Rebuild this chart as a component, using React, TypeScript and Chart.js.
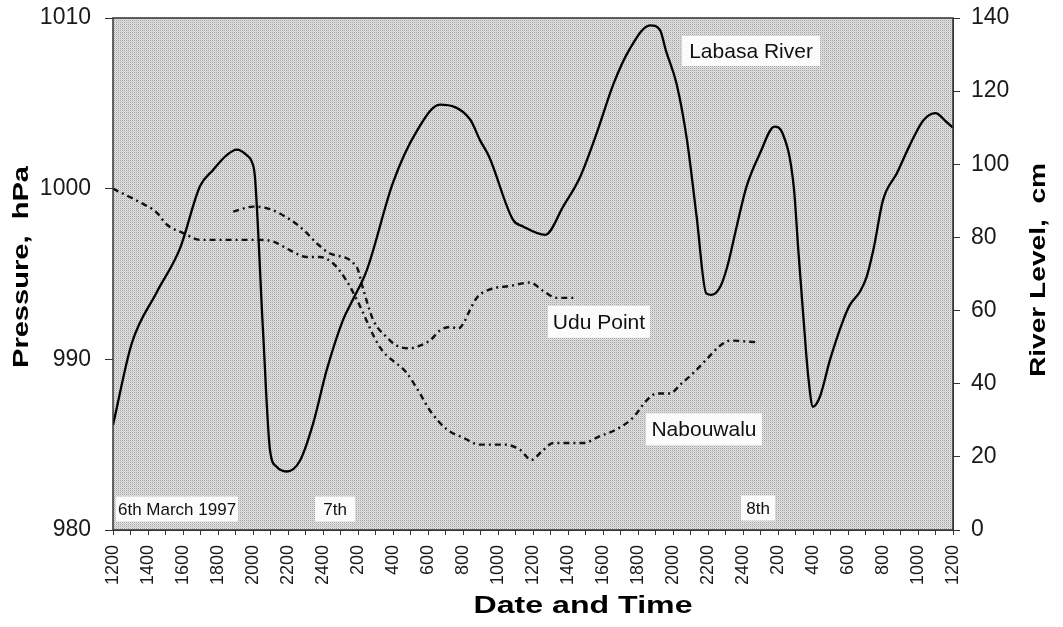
import { useEffect, useRef } from 'react';
import { Chart, registerables } from 'chart.js';

Chart.register(...registerables);

// x axis: hours since 1200 on 6th March 1997 (0..48)
const timeLabels = ['1200', '1400', '1600', '1800', '2000', '2200', '2400', '200', '400', '600', '800', '1000', '1200',
  '1400', '1600', '1800', '2000', '2200', '2400', '200', '400', '600', '800', '1000', '1200'];

// Labasa River level (cm)
const riverHours = [0, 1.07, 2.5, 3.83, 4.97, 5.71, 6.5, 7.07, 7.64, 7.93, 8.11, 8.57, 8.97, 9.35, 9.93, 10.69, 11.43, 12.21,
  13.14, 13.71, 14.5, 16, 17.35, 18.69, 20.4, 20.97, 21.5, 22.86, 23.43, 24.7, 25.73, 26.7, 27.64, 28.6, 29.5, 30.7, 31.26,
  31.6, 32.2, 32.8, 33.35, 33.9, 34.2, 34.7, 35.1, 35.64, 36.2, 36.97, 37.8, 38.26, 38.9, 39.16, 39.45, 39.73, 40.0, 40.4,
  40.97, 41.73, 42.1, 42.69, 43.07, 43.45, 44, 44.8, 45.5, 46.3, 47, 47.6, 48];
const riverLevel = [28.7, 51, 65, 77, 94, 98.4, 102.5, 104, 102.5, 100.7, 96.6, 54.7, 21.9, 17.3, 16, 19, 29, 43.7,
  57.4, 63, 71, 95, 109, 116.3, 112.3, 106.6, 102, 84.8, 83, 80.7, 88.5, 96.6, 108.5, 122, 131.3, 138, 136.7,
  131, 122.1, 106.6, 85.7, 64.7, 64.3, 66.5, 72, 83, 93.9, 103, 110.3, 108.5, 93.9, 76.6, 58.3, 41.9, 33.7, 36.5,
  46.5, 57.4, 61.5, 65.2, 69.3, 76.6, 90.2, 97.6, 104.9, 112, 114, 111.7, 110];

// Nabouwalu pressure (hPa)
const naboHours = [0, 1.54, 2.5, 3.07, 4.02, 4.97, 6.86, 8.4, 9.16, 10.1, 11.07, 11.83, 12.6, 13.35, 13.93, 15.26, 16.78,
  17.54, 18.11, 19.07, 20.02, 20.97, 22.4, 23.26, 23.9, 24.5, 25.16, 26.87, 27.83, 28.78, 29.73, 30.5, 31.07, 31.83, 32.4,
  33.16, 33.92, 34.69, 35.26, 36.78];
const naboPressure = [1000, 999.2, 998.6, 997.9, 997.4, 997.0, 997.0, 997.0, 996.9, 996.4, 996.0, 996.0, 995.6, 994.6,
  993.5, 990.7, 989.2, 988.0, 987.0, 985.9, 985.4, 985.0, 985.0, 984.7, 984.1, 984.6, 985.1, 985.1, 985.5, 985.9, 986.6,
  987.6, 988.0, 988.0, 988.5, 989.2, 990.0, 990.8, 991.1, 991.0];

// Udu Point pressure (hPa)
const uduHours = [6.87, 8.02, 8.97, 10.1, 10.87, 11.64, 12.4, 13.93, 14.3, 14.87, 15.64, 16.21, 16.97, 17.54, 18.11,
  18.69, 19.26, 19.73, 20.02, 20.4, 20.78, 21.54, 22.69, 23.83, 24.59, 25.35, 26.5];
const uduPressure = [998.65, 998.95, 998.8, 998.2, 997.6, 996.8, 996.2, 995.4, 994.1, 992.3, 991.3, 990.8, 990.65, 990.8,
  991.1, 991.7, 991.9, 991.8, 992.1, 992.9, 993.6, 994.1, 994.3, 994.5, 994.0, 993.6, 993.6];

const FONT = '"Liberation Sans", Arial, sans-serif';

function drawStretched(ctx: CanvasRenderingContext2D, text: string, cx: number, cy: number, font: string, targetW: number, rot: number) {
  ctx.save();
  ctx.font = font;
  const w = ctx.measureText(text).width;
  ctx.translate(cx, cy);
  ctx.rotate(rot);
  ctx.scale(targetW / w, 1);
  ctx.fillStyle = '#000';
  ctx.textAlign = 'center';
  ctx.textBaseline = 'middle';
  ctx.fillText(text, 0, 0);
  ctx.restore();
}

function zeroPad(s: any) {
  s.paddingTop = 0;
  s.paddingBottom = 0;
  s.paddingLeft = 0;
  s.paddingRight = 0;
}

export default function App() {
  const ref = useRef<HTMLCanvasElement>(null);

  useEffect(() => {
    const canvas = ref.current;
    if (!canvas) return;

    const tile = document.createElement('canvas');
    tile.width = 2;
    tile.height = 2;
    const tctx = tile.getContext('2d')!;
    tctx.fillStyle = '#e0e0e0';
    tctx.fillRect(0, 0, 2, 2);
    tctx.fillStyle = '#a6a6a6';
    tctx.fillRect(0, 0, 1, 1);
    tctx.fillStyle = '#cfcfcf';
    tctx.fillRect(1, 1, 1, 1);

    const decor = {
      id: 'decor',
      beforeDatasetsDraw(chart: any) {
        const { ctx, chartArea: a } = chart;
        ctx.save();
        const pat = ctx.createPattern(tile, 'repeat');
        ctx.fillStyle = pat;
        ctx.fillRect(a.left, a.top, a.right - a.left, a.bottom - a.top);
        ctx.restore();
      },
      afterDatasetsDraw(chart: any) {
        const { ctx, chartArea: a, scales } = chart;
        const xs = scales.x, ys = scales.y;
        ctx.save();
        ctx.strokeStyle = '#333';
        ctx.lineWidth = 1.5;
        ctx.strokeRect(a.left, a.top, a.right - a.left, a.bottom - a.top);

        const boxes: [string, number, number, number, number, number][] = [
          ['Labasa River', 36.46, 1008.07, 138, 30, 21],
          ['Udu Point', 27.77, 992.2, 102, 32, 21],
          ['Nabouwalu', 33.77, 985.9, 116, 32, 21],
          ['6th March 1997', 3.66, 981.23, 122, 25, 17],
          ['7th', 12.69, 981.23, 40, 25, 17],
          ['8th', 36.86, 981.29, 34, 25, 17],
        ];
        for (const [t, hx, py, w, h, fs] of boxes) {
          const cx = xs.getPixelForValue(hx);
          const cy = ys.getPixelForValue(py);
          ctx.fillStyle = '#fbfbfb';
          ctx.fillRect(cx - w / 2, cy - h / 2, w, h);
          ctx.fillStyle = '#111';
          ctx.font = `${fs}px ${FONT}`;
          ctx.textAlign = 'center';
          ctx.textBaseline = 'middle';
          ctx.fillText(t, cx, cy + 1);
        }
        ctx.restore();

        drawStretched(ctx, 'Pressure,  hPa', 22, 267, `bold 22px ${FONT}`, 202, -Math.PI / 2);
        drawStretched(ctx, 'River Level,  cm', 1039, 270, `bold 22px ${FONT}`, 214, -Math.PI / 2);
        drawStretched(ctx, 'Date and Time', 583, 607, `bold 23px ${FONT}`, 219, 0);
      },
    };

    const chart = new Chart(canvas, {
      type: 'line',
      data: {
        datasets: [
          {
            label: 'Labasa River',
            data: riverHours.map((x, i) => ({ x, y: riverLevel[i] })),
            yAxisID: 'y2',
            borderColor: '#000',
            borderWidth: 2.3,
            pointRadius: 0,
            cubicInterpolationMode: 'monotone',
            fill: false,
          },
          {
            label: 'Nabouwalu',
            data: naboHours.map((x, i) => ({ x, y: naboPressure[i] })),
            yAxisID: 'y',
            borderColor: '#111',
            borderWidth: 2.4,
            borderDash: [6, 4, 2, 4],
            pointRadius: 0,
            cubicInterpolationMode: 'monotone',
            fill: false,
          },
          {
            label: 'Udu Point',
            data: uduHours.map((x, i) => ({ x, y: uduPressure[i] })),
            yAxisID: 'y',
            borderColor: '#111',
            borderWidth: 2.4,
            borderDash: [6, 4, 2, 4],
            pointRadius: 0,
            cubicInterpolationMode: 'monotone',
            fill: false,
          },
        ],
      },
      options: {
        animation: false,
        responsive: false,
        events: [],
        layout: { padding: { top: 18, left: 0, right: 0, bottom: 0 } },
        plugins: { legend: { display: false }, tooltip: { enabled: false }, title: { display: false } },
        scales: {
          x: {
            type: 'linear',
            min: 0,
            max: 48,
            afterFit: (s: any) => { s.height = 97; zeroPad(s); },
            grid: { drawOnChartArea: false, drawTicks: true, tickLength: 5, color: '#333' },
            border: { display: true, color: '#333' },
            ticks: {
              stepSize: 1,
              maxTicksLimit: 100,
              autoSkip: false,
              minRotation: 90,
              maxRotation: 90,
              padding: 10,
              color: '#1a1a1a',
              font: { family: FONT, size: 18 },
              callback: (v: any) => (Number(v) % 2 === 0 ? timeLabels[Number(v) / 2] : ''),
            },
          },
          y: {
            position: 'left',
            min: 980,
            max: 1010,
            afterFit: (s: any) => { s.width = 113; zeroPad(s); },
            grid: { drawOnChartArea: false, drawTicks: true, tickLength: 8, color: '#333' },
            border: { display: true, color: '#333' },
            ticks: { stepSize: 10, padding: 14, color: '#1a1a1a', font: { family: FONT, size: 23 }, callback: (v: any) => String(v) },
          },
          y2: {
            position: 'right',
            min: 0,
            max: 140,
            afterFit: (s: any) => { s.width = 110; zeroPad(s); },
            grid: { drawOnChartArea: false, drawTicks: true, tickLength: 7, color: '#333' },
            border: { display: true, color: '#333' },
            ticks: { stepSize: 20, padding: 11, color: '#1a1a1a', font: { family: FONT, size: 23 }, callback: (v: any) => String(v) },
          },
        },
      },
      plugins: [decor],
    } as any);

    return () => chart.destroy();
  }, []);

  return (
    <div style={{ position: 'absolute', left: 0, top: 0, width: 1063, height: 627, background: '#fff' }}>
      <canvas ref={ref} width={1063} height={627} style={{ display: 'block' }} />
    </div>
  );
}
